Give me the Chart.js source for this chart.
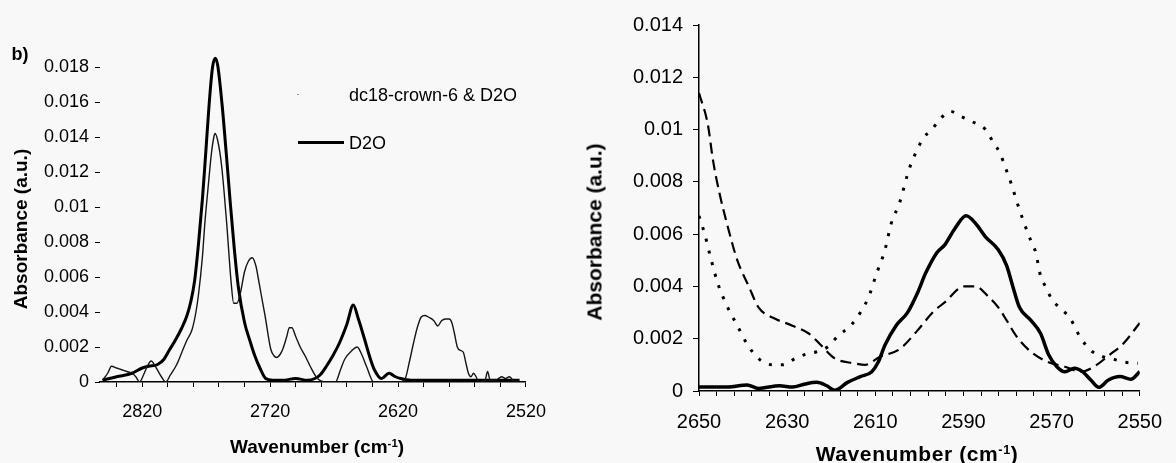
<!DOCTYPE html>
<html><head><meta charset="utf-8">
<script src="https://cdn.jsdelivr.net/npm/chart.js"></script>
<style>
html,body{margin:0;padding:0;background:#f8f8f8;}
#wrap{position:relative;width:1176px;height:463px;overflow:hidden;background:#f8f8f8;font-family:"Liberation Sans",Arial,sans-serif;color:#000;}
#c1{position:absolute;left:0;top:0;}
#c2{position:absolute;left:560px;top:0;}
.t{position:absolute;white-space:nowrap;line-height:1;transform:translate(-50%,-50%);}
.l{position:absolute;white-space:nowrap;line-height:1;transform:translate(0,-50%);}
.rot{transform:translate(-50%,-50%) rotate(-90deg);}
sup{font-size:60%;vertical-align:0;position:relative;top:-0.55em;}
</style>
</head><body>
<div id="wrap">
<canvas id="c1" width="560" height="463"></canvas>
<canvas id="c2" width="616" height="463"></canvas>
<div class="t" style="left:20px;top:54px;font-size:18px;font-weight:bold;">b)</div>
<div class="l" style="left:349px;top:95px;font-size:18px;">dc18-crown-6 &amp; D2O</div>
<div style="position:absolute;left:297px;top:94px;width:2px;height:1px;background:#999;"></div>
<div class="l" style="left:349px;top:143px;font-size:18px;">D2O</div>
<div style="position:absolute;left:298px;top:141px;width:46px;height:3px;background:#000;"></div>
<div class="t rot" style="left:20px;top:229px;font-size:19px;font-weight:bold;">Absorbance (a.u.)</div>
<div class="t" style="left:317px;top:446px;font-size:19px;font-weight:bold;">Wavenumber (cm<sup>-1</sup>)</div>
<div class="t rot" style="left:594px;top:232px;font-size:21px;font-weight:bold;">Absorbance (a.u.)</div>
<div class="t" style="left:917px;top:453px;font-size:21px;font-weight:bold;letter-spacing:0.6px;">Wavenumber (cm<sup>-1</sup>)</div>
</div>
<script>
// ---------- Left panel (b) ----------
const leftSeriesNames = ['dc18-crown-6 & D2O', 'D2O'];
const leftWnCrown = [2851,2847,2844,2840,2836,2832,2828,2825,2822,2819,2816,2813,2809,2805,2801.5,2798,2793,2789,2785,2781,2778,2776,2773,2771,2768,2766,2764,2763,2761,2758,2754,2750.5,2748.5,2746,2743.5,2740,2737,2734,2731,2729.7,2727,2724,2719.6,2717,2715,2712,2710,2707,2705,2703,2700,2696.5,2692,2688.7,2683,2676,2669,2665,2661.7,2656,2652,2648,2644.7,2639,2630,2620,2615,2611,2608,2605,2602,2599,2596,2592,2589,2586,2583,2580,2578,2576,2573.7,2571,2569,2567,2565,2563,2561,2559,2557,2552,2550,2548,2544,2539,2536,2533,2530,2527];
const leftAbsCrown = [0.0001,0.0005,0.0009,0.0008,0.0007,0.0006,0.0005,0.0003,0.0000,0.0004,0.0009,0.0012,0.0008,0.0003,0.0000,0.0004,0.0010,0.0017,0.0024,0.0030,0.0040,0.0050,0.0071,0.0091,0.0115,0.0130,0.0140,0.0142,0.0138,0.0124,0.0091,0.0057,0.0045,0.0045,0.0050,0.0063,0.0069,0.0071,0.0066,0.0061,0.0050,0.0038,0.0019,0.0015,0.0014,0.0016,0.0019,0.0026,0.0031,0.0031,0.0026,0.0020,0.0014,0.0009,0.0002,0.0000,0.0000,0.0007,0.0013,0.0018,0.0020,0.0015,0.0009,0.0000,0.0000,0.0000,0.0001,0.0012,0.0022,0.0031,0.0037,0.0038,0.0037,0.0035,0.0032,0.0035,0.0036,0.0036,0.0034,0.0028,0.0020,0.0018,0.0017,0.0011,0.0005,0.0003,0.0005,0.0003,0.0000,0.0001,0.0006,0.0001,0.0001,0.0003,0.0002,0.0003,0.0001,0.0000];
const leftWnD2O = [2851,2840,2828,2820,2815,2808,2803,2799,2794,2789,2785,2782,2779,2776,2773,2771,2767,2765,2763,2761,2757.5,2754,2751,2748,2745,2740,2736,2732,2728,2723.5,2718,2710,2700,2691,2685,2681,2676,2671,2666,2660,2655,2651,2646,2642,2638.5,2633,2627,2622,2618,2610,2600,2590,2580,2570,2560,2550,2540,2530,2525];
const leftAbsD2O = [0.0001,0.0003,0.0005,0.0008,0.0009,0.0010,0.0013,0.0018,0.0024,0.0031,0.0038,0.0046,0.0058,0.0079,0.0104,0.0124,0.0165,0.0180,0.0185,0.0181,0.0158,0.0128,0.0101,0.0076,0.0055,0.0034,0.0024,0.0015,0.0008,0.0002,0.0001,0.0001,0.0002,0.0001,0.0002,0.0004,0.0009,0.0015,0.0022,0.0033,0.0044,0.0036,0.0024,0.0014,0.0007,0.0002,0.0005,0.0003,0.0002,0.0001,0.0001,0.0001,0.0001,0.0001,0.0001,0.0001,0.0001,0.0001,0.0001];
const leftXTicks = [2840,2820,2800,2780,2760,2740,2720,2700,2680,2660,2640,2620,2600,2580,2560,2540,2520];
const leftXLabels = [2820,2720,2620,2520];
const leftYTicks = [0,0.002,0.004,0.006,0.008,0.01,0.012,0.014,0.016,0.018];

// ---------- Right panel ----------
const rightWnDashed = [2650,2648,2646.8,2645.4,2643.5,2641.3,2638.7,2636.5,2633.2,2628.8,2625.1,2622.6,2619.2,2614.8,2612.3,2609,2604.5,2600.5,2597,2594.2,2589.8,2587.2,2584.3,2582.1,2580.2,2578,2574.7,2570.7,2567,2563.3,2560.4,2556.7,2553.8,2550];
const rightAbsDashed = [0.0114,0.0102,0.0088,0.0076,0.0063,0.0050,0.0040,0.0032,0.0028,0.0025,0.0022,0.0018,0.00125,0.00106,0.0010,0.0013,0.0016,0.0023,0.0030,0.0034,0.0040,0.0040,0.0036,0.0032,0.0027,0.0021,0.0015,0.0011,0.00093,0.00074,0.00093,0.0014,0.0018,0.0026];
const rightWnDotted = [2650,2648.7,2647.2,2645.7,2643.5,2641.3,2639.1,2636.2,2633.2,2631,2628.1,2625.9,2623.3,2620.7,2618.5,2615.6,2613.4,2611.5,2609.7,2607.8,2606.4,2604.5,2602.3,2600.3,2599,2597.2,2595.3,2593,2590.5,2588,2585,2583.2,2581.7,2580.6,2579.1,2578,2576.4,2574.6,2573.6,2572.5,2571.4,2569.9,2568.3,2565.9,2563.3,2560.7,2558.2,2555.6,2553.4,2550.4];
const rightAbsDotted = [0.0067,0.0060,0.0050,0.0041,0.0032,0.0025,0.0018,0.0012,0.0010,0.0010,0.00125,0.0014,0.0015,0.0017,0.0021,0.0025,0.0030,0.0036,0.0045,0.0054,0.0064,0.0072,0.0085,0.0093,0.0097,0.0100,0.0104,0.0107,0.0105,0.0103,0.0100,0.0095,0.0091,0.0086,0.0079,0.0073,0.0065,0.0057,0.0053,0.0044,0.0040,0.0035,0.0032,0.0028,0.0020,0.0015,0.0013,0.0012,0.0011,0.00106];
const rightWnSolid = [2650,2643.5,2639.1,2636.5,2631.7,2628.8,2625.9,2623.3,2621,2619.2,2616.3,2613.4,2610.8,2609.3,2607.8,2605.3,2602.7,2600.3,2598.6,2596,2594.2,2592,2589.4,2587.2,2585,2582.1,2580.2,2578.8,2577.3,2574.7,2572.5,2570.7,2568.8,2567,2564.8,2563,2561.1,2559.3,2557.1,2554.5,2552,2550];
const rightAbsSolid = [0.00015,0.00015,0.00023,0.0001,0.0002,0.00015,0.00027,0.00033,0.0002,0.00003,0.00033,0.00055,0.00074,0.00112,0.00176,0.0025,0.0030,0.0038,0.0045,0.0053,0.0056,0.0062,0.0067,0.0064,0.0059,0.0054,0.0048,0.0040,0.0032,0.0027,0.0022,0.0014,0.00093,0.00074,0.00087,0.00074,0.00042,0.00014,0.00042,0.00055,0.00045,0.00074];
const rightXTicks = [2650,2646,2642,2638,2634,2630,2626,2622,2618,2614,2610,2606,2602,2598,2594,2590,2586,2582,2578,2574,2570,2566,2562,2558,2554,2550];
const rightXLabels = [2650,2630,2610,2590,2570,2550];
const rightYTicks = [0,0.002,0.004,0.006,0.008,0.01,0.012,0.014];

const FONT = '"Liberation Sans", Arial, sans-serif';
const zip = (xs, ys) => xs.map((x, i) => ({x: x, y: ys[i]}));
const fmtY = v => String(Number(Number(v).toFixed(4)));

new Chart(document.getElementById('c1'), {
  type: 'line',
  data: { datasets: [
    { label: leftSeriesNames[0], data: zip(leftWnCrown, leftAbsCrown), borderColor: '#151515', borderWidth: 1.4 },
    { label: leftSeriesNames[1], data: zip(leftWnD2O, leftAbsD2O), borderColor: '#000', borderWidth: 3 }
  ]},
  options: {
    responsive: false, animation: false,
    layout: { padding: { top: 53, right: 29, left: 0, bottom: 0 } },
    plugins: { legend: { display: false }, tooltip: { enabled: false } },
    elements: { point: { radius: 0 }, line: { cubicInterpolationMode: 'monotone' } },
    scales: {
      x: { type: 'linear', reverse: true, min: 2520, max: 2853,
        afterBuildTicks: s => { s.ticks = leftXTicks.map(v => ({ value: v })); },
        afterFit: s => { s.height = 81; },
        ticks: { autoSkip: false, maxRotation: 0, padding: 14, color: '#000', font: { family: FONT, size: 18 },
          callback: v => leftXLabels.includes(v) ? String(v) : '' },
        grid: { drawOnChartArea: false, drawTicks: true, tickLength: 5, color: '#000', lineWidth: 1 },
        border: { display: true, color: '#000', width: 1.5 }
      },
      y: { type: 'linear', min: 0, max: 0.0188,
        afterBuildTicks: s => { s.ticks = leftYTicks.map(v => ({ value: v })); },
        afterFit: s => { s.width = 100; },
        ticks: { padding: 6, color: '#000', font: { family: FONT, size: 18 }, callback: fmtY },
        grid: { drawOnChartArea: false, drawTicks: true, tickLength: 5, color: '#000', lineWidth: 1 },
        border: { display: false }
      }
    }
  }
});

new Chart(document.getElementById('c2'), {
  type: 'line',
  data: { datasets: [
    { label: 'dashed', data: zip(rightWnDashed, rightAbsDashed), borderColor: '#000', borderWidth: 2.2, borderDash: [11, 6] },
    { label: 'dotted', data: zip(rightWnDotted, rightAbsDotted), borderColor: '#000', borderWidth: 3, borderDash: [3, 9] },
    { label: 'solid', data: zip(rightWnSolid, rightAbsSolid), borderColor: '#000', borderWidth: 3.5 }
  ]},
  options: {
    responsive: false, animation: false,
    layout: { padding: { top: 25, right: 24, left: 0, bottom: 0 } },
    plugins: { legend: { display: false }, tooltip: { enabled: false } },
    elements: { point: { radius: 0 }, line: { cubicInterpolationMode: 'monotone' } },
    scales: {
      x: { type: 'linear', reverse: true, min: 2550, max: 2650,
        afterBuildTicks: s => { s.ticks = rightXTicks.map(v => ({ value: v })); },
        afterFit: s => { s.height = 72; },
        ticks: { autoSkip: false, maxRotation: 0, padding: 14, color: '#000', font: { family: FONT, size: 20 },
          callback: v => rightXLabels.includes(v) ? String(v) : '' },
        grid: { drawOnChartArea: false, drawTicks: true, tickLength: 5, color: '#000', lineWidth: 1 },
        border: { display: true, color: '#000', width: 1.5 }
      },
      y: { type: 'linear', min: 0, max: 0.014,
        afterBuildTicks: s => { s.ticks = rightYTicks.map(v => ({ value: v })); },
        afterFit: s => { s.width = 139; },
        ticks: { padding: 10, color: '#000', font: { family: FONT, size: 20 }, callback: fmtY },
        grid: { drawOnChartArea: false, drawTicks: true, tickLength: 6, color: '#000', lineWidth: 1 },
        border: { display: true, color: '#000', width: 1.5 }
      }
    }
  }
});
</script>
</body></html>
